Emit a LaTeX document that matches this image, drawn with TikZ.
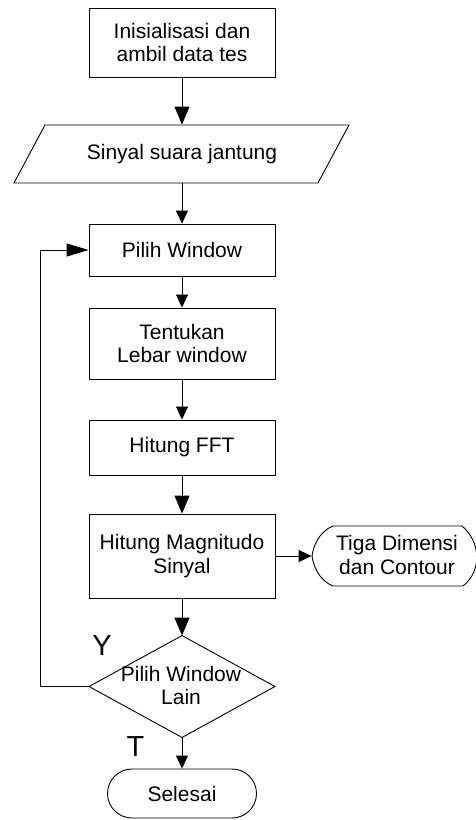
\documentclass[tikz,border=0pt]{standalone}
\usepackage{fontspec}
\setmainfont{Liberation Sans}
\usetikzlibrary{arrows.meta,calc}
\begin{document}
\begin{tikzpicture}[x=1pt,y=-1pt,line width=0.9pt,
  txt/.style={font=\fontsize{21}{23.5}\selectfont, align=center, inner sep=0pt},
  procbox/.style={txt, draw, minimum width=186, minimum height=#1},
  ghost/.style={txt, minimum width=#1},
  big/.style={-{Triangle[length=18pt,width=15pt]}},
  small/.style={-{Triangle[length=13pt,width=12pt]}},
  lbl/.style={font=\fontsize{29}{30}\selectfont, inner sep=0pt}]
\useasboundingbox (0,0) rectangle (476,820);
% nodes
\node[procbox=69] (b1) at (182,42.5) {Inisialisasi dan\\ambil data tes};
\node[ghost=304, minimum height=58] (para) at (182,154) {Sinyal suara jantung};
\draw (14,183) -- (45,125) -- (349,125) -- (318,183) -- cycle;
\node[procbox=52] (pilih) at (182,250) {Pilih Window};
\node[procbox=71] (tent) at (182,343.5) {Tentukan\\Lebar window};
\node[procbox=55] (fft) at (182,447.5) {Hitung FFT};
\node[procbox=84] (mag) at (182,556) {Hitung Magnitudo\\Sinyal};
\node[ghost=164, minimum height=60] (disp) at (394,556) {};
\node[txt] (disptxt) at (397,555) {Tiga Dimensi\\dan Contour};
\draw (333,526) -- (462,526) .. controls (480,541) and (483,570) .. (463,586)
      -- (333,586) .. controls (318,580) and (313,564) .. (312,556)
      .. controls (313,548) and (318,532) .. (333,526);
\node[ghost=185, minimum height=101] (dia) at (182,686.5) {};
\draw (dia.north) -- (dia.east) -- (dia.south) -- (dia.west) -- cycle;
\node[txt] (diatxt) at (181,685.5) {Pilih Window\\Lain};
\node[txt, draw, rounded corners=24.5pt, minimum width=149, minimum height=49] (sel) at (182,793.5) {Selesai};
\node[lbl] (y) at (102,646) {Y};
\node[lbl] (t) at (135.5,747) {T};
% connectors
\draw[big] (b1) -- (para.north);
\draw[small] (para.south) -- (pilih);
\draw[small] (pilih) -- (tent);
\draw[small] (tent) -- (fft);
\draw[big] (fft) -- (mag);
\draw[big] (mag) -- (dia.north);
\draw[small] (dia.south) -- (sel);
\draw[small] (mag.east) -- (disp.west);
\draw[-{Triangle[length=22pt,width=13pt]}] (dia.west) -- ++(-49,0) |- (pilih.west);
\end{tikzpicture}
\end{document}
